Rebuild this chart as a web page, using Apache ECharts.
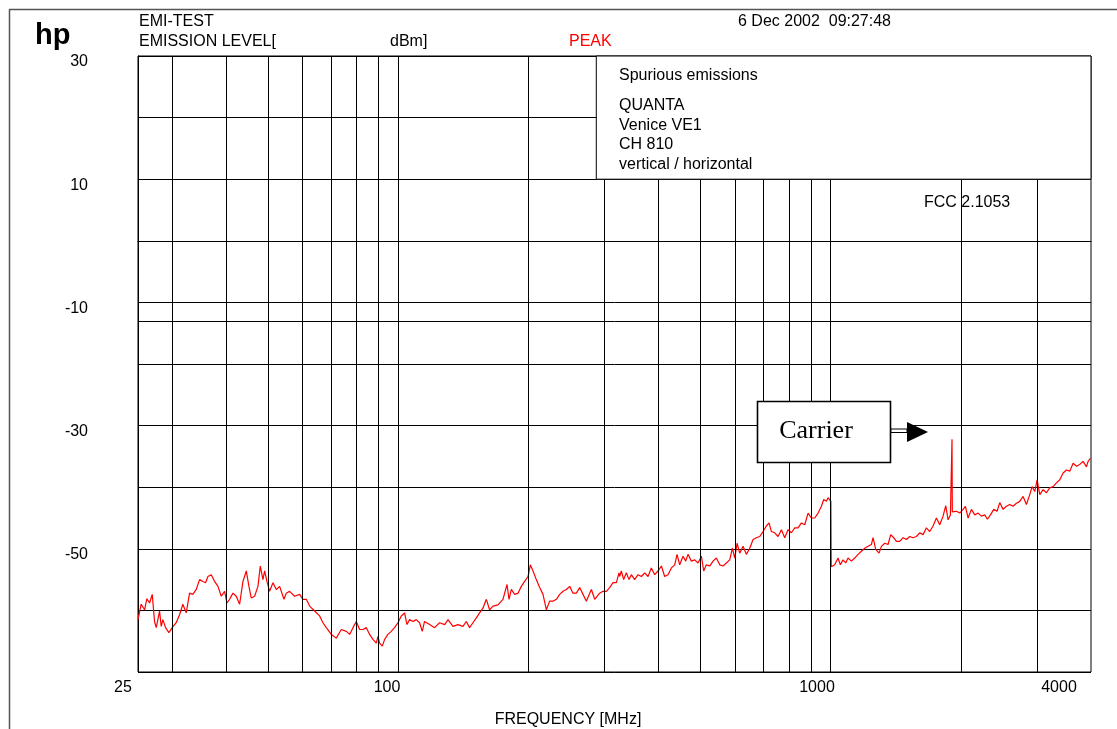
<!DOCTYPE html>
<html><head><meta charset="utf-8">
<script src="https://cdn.jsdelivr.net/npm/echarts@6/dist/echarts.min.js"></script>
<style>html,body{margin:0;padding:0;background:#fff}#c{width:1117px;height:729px}</style>
</head><body><div id="c"></div>
<script>
// ---- data ----
const freqMHz = [
25.0,25.43,25.89,26.21,26.59,26.97,27.30,27.55,28.04,28.29,28.54,28.95,29.47,30.0,30.64,31.19,31.75,32.32,32.90,33.49,
34.09,34.70,35.33,35.83,36.28,36.93,37.59,38.27,38.95,39.65,40.14,40.72,41.45,42.19,42.95,43.72,44.50,45.14,45.70,46.52,
47.35,47.95,48.63,49.07,49.68,50.39,51.29,52.21,53.15,54.39,55.07,56.05,57.57,59.12,60.18,61.26,62.36,64.04,65.77,66.94,
68.14,69.98,71.87,73.81,75.81,77.16,78.55,79.95,81.38,82.84,84.33,85.84,87.37,88.94,89.73,
90.5,91.8,93.0,94.6,96.3,98.0,99.8,101.6,103.4,104.7,106.2,108.1,110.0,112.0,113.6,115.0,118.1,121.3,124.6,128.0,
130.3,133.8,137.4,141.1,143.6,146.2,148.8,151.5,154.2,157.0,159.8,162.6,165.6,170.0,174.6,178.4,180.3,182.6,185.8,189.2,
192.5,196.0,199.5,202.0,204.9,208.5,212.3,216.1,220.0,223.9,227.9,232.0,236.2,240.4,244.7,249.1,253.5,258.1,262.7,267.4,
272.2,277.1,279.6,284.6,292.2,297.5,302.8,308.2,313.7,319.4,323.9,
325.0,327.9,332.0,336.8,341.6,345.9,352.1,358.4,364.9,371.4,378.1,384.8,391.7,398.7,405.9,413.1,420.5,428.1,435.7,441.2,
447.5,455.5,462.1,467.8,476.2,484.8,493.4,502.3,508.5,515.8,525.1,534.5,544.0,553.8,563.7,573.7,584.1,592.5,599.9,607.4,
616.1,627.1,638.3,649.8,661.4,673.2,685.3,697.6,710.0,720.2,729.2,742.3,755.6,769.1,782.9,796.9,811.2,825.7,840.5,855.6,
870.9,886.5,902.4,918.6,935.0,951.8,963.7,977.5,985.9,995.0,1001,
1003,1021.6,1039.8,1052.8,1067.9,1083.2,1096.8,1116.4,1136.5,1156.9,1177.6,1198.8,1220.3,1242.1,1253.0,1270.9,1293.8,1310.0,1333.4,1357.3,
1376.7,1398.9,1418.9,1444.3,1470.3,1496.7,1523.5,1550.8,1578.5,1606.8,1635.5,1664.9,1694.6,1725.0,1755.9,1787.4,1819.4,1845.5,1868.6,1891.9,
1905,1908,1911,1953.5,1988.4,2024.1,2049.4,2078.7,2115.9,2153.9,2192.4,2231.7,2271.5,2304.0,2341.2,2383.1,2425.8,2460.5,2504.6,2549.5,
2595.1,2641.6,2689.0,2737.2,2786.2,2836.1,2886.9,2923.0,2964.8,3001.9,3044.9,3099.4,3154.9,3211.4,3269.0,3327.5,3387.1,3447.8,3509.5,3572.4,
3636.4,3701.5,3767.8,3835.3,3904.0,3938.8,3987
];
const levelDbm = [
-61.5,-59.0,-59.9,-58.1,-58.8,-57.4,-61.8,-62.8,-60.1,-62.6,-61.5,-62.8,-63.6,-62.8,-62.0,-60.7,-59.0,-60.4,-57.2,-57.4,
-56.6,-55.0,-55.3,-55.5,-54.5,-54.2,-55.3,-56.1,-57.7,-56.9,-58.8,-58.2,-57.2,-57.7,-59.0,-55.3,-53.6,-56.1,-58.0,-57.7,
-56.1,-52.8,-55.0,-53.6,-55.3,-56.9,-55.5,-56.6,-56.1,-58.2,-57.2,-56.9,-57.7,-57.4,-58.2,-58.2,-59.3,-60.1,-60.9,-62.0,
-62.8,-63.9,-64.5,-63.1,-63.4,-63.9,-62.8,-61.8,-63.1,-63.1,-62.8,-63.9,-64.7,-65.3,-64.2,
-65.3,-65.8,-64.7,-63.9,-63.4,-62.8,-62.0,-60.9,-60.4,-62.3,-61.5,-61.8,-61.5,-62.0,-63.4,-61.8,-62.3,-62.8,-62.0,-62.3,
-61.5,-62.6,-62.3,-62.6,-61.8,-62.8,-62.0,-61.2,-60.4,-59.6,-58.2,-59.9,-59.3,-59.1,-58.2,-55.8,-58.2,-56.6,-57.4,-57.2,
-56.1,-55.3,-54.5,-52.6,-53.6,-55.0,-56.3,-57.4,-59.9,-58.5,-58.5,-58.2,-57.4,-56.9,-56.6,-56.1,-57.2,-57.2,-56.3,-57.4,
-58.5,-57.2,-56.6,-58.2,-57.2,-56.9,-56.9,-56.3,-55.5,-55.5,-53.9,
-54.5,-53.6,-55.0,-53.9,-55.0,-54.2,-55.0,-54.2,-54.5,-53.9,-54.5,-53.1,-54.2,-53.6,-52.8,-54.5,-54.2,-53.1,-52.6,-50.9,
-52.6,-51.2,-52.0,-50.9,-52.0,-51.8,-52.3,-51.2,-53.6,-52.6,-52.8,-52.0,-51.5,-52.6,-52.8,-52.3,-51.8,-49.9,-51.5,-49.1,
-50.7,-49.6,-50.9,-49.9,-48.5,-48.2,-48.0,-47.2,-46.3,-45.8,-47.2,-47.4,-48.0,-46.9,-48.2,-46.9,-47.4,-46.6,-46.6,-45.8,
-46.1,-44.2,-45.0,-45.0,-44.2,-43.1,-42.0,-42.3,-41.7,-41.8,-42.3,
-52.9,-52.6,-51.5,-52.6,-51.8,-52.3,-51.5,-52.0,-51.5,-50.9,-50.4,-49.9,-49.6,-49.3,-48.2,-50.1,-50.7,-49.6,-49.1,-49.3,
-47.7,-48.2,-48.8,-48.8,-48.2,-48.5,-48.0,-48.2,-48.0,-47.4,-47.7,-46.6,-47.2,-46.3,-45.0,-46.1,-44.7,-43.0,-45.3,-44.5,
-44.2,-32.2,-44.0,-43.9,-44.2,-43.6,-43.1,-45.0,-43.6,-44.5,-44.2,-44.7,-44.5,-45.2,-44.5,-43.6,-43.9,-42.5,-43.6,-43.1,
-42.8,-43.1,-42.6,-42.3,-41.5,-42.8,-41.2,-39.9,-40.7,-38.8,-41.2,-40.4,-40.9,-40.1,-39.9,-39.3,-38.8,-37.7,-37.2,-37.4,
-36.1,-36.6,-36.3,-35.8,-36.7,-35.8,-35.3
];
const gridFreqFull = [30,40,50,60,70,80,90,100,200];
const gridFreqLower = [300,400,500,600,700,800,900,1000,2000,3000];
const limitDbm = -13;
const yTickLabels = [30,10,-10,-30,-50];
const xTickLabels = ['25','100','1000','4000'];
const infoLines = ['Spurious emissions','QUANTA','Venice VE1','CH 810','vertical / horizontal'];
const limitLabel = 'FCC 2.1053';
const infoBoxFreq = 287;

// ---- chart ----
const FONT = '"Liberation Sans", Arial, Helvetica, sans-serif';
const SERIF = '"Liberation Serif", "Times New Roman", serif';
const chart = echarts.init(document.getElementById('c'), null, {renderer:'canvas'});
const traceData = freqMHz.map((f,i)=>[f, levelDbm[i]]);

const markLines = [];
gridFreqFull.forEach(f=>markLines.push([{coord:[f,-70]},{coord:[f,30]}]));
gridFreqLower.forEach(f=>markLines.push([{coord:[f,-70]},{coord:[f,10]}]));
markLines.push({yAxis:limitDbm});

function txt(s,x,y,opts){
  return {type:'text', z:20, silent:true, style:Object.assign({text:s, x:x, y:y, fill:'#000', font:'16px '+FONT, textVerticalAlign:'middle', textAlign:'left'}, opts||{})};
}
const xLabelPos = [123, 387, 817, 1059];
const infoY = [76, 106, 126, 145, 165];
const graphics = [
  {type:'line', z:20, shape:{x1:9,y1:9.5,x2:1117,y2:9.5}, style:{stroke:'#555', lineWidth:1.5}},
  {type:'line', z:20, shape:{x1:9.5,y1:9,x2:9.5,y2:729}, style:{stroke:'#555', lineWidth:1.5}},
  txt('hp', 35, 36, {font:'bold 29px '+FONT}),
  txt('EMI-TEST', 139, 22),
  txt('EMISSION LEVEL[', 139, 42),
  txt('dBm]', 390, 42),
  txt('PEAK', 569, 42, {fill:'#ff0000'}),
  txt('6 Dec 2002  09:27:48', 738, 22),
  txt('FREQUENCY [MHz]', 568, 720, {textAlign:'center'}),
  txt(limitLabel, 924, 203),
  // carrier annotation
  {type:'rect', z:15, shape:{x:891, y:420, width:16, height:23}, style:{fill:'#fff'}},
  {type:'rect', z:16, shape:{x:757.5, y:401.5, width:133, height:61}, style:{fill:'#fff', stroke:'#000', lineWidth:1.6}},
  txt('Carrier', 816, 431, {font:'26px '+SERIF, textAlign:'center'}),
  {type:'rect', z:16, shape:{x:891, y:429, width:16, height:3.5}, style:{fill:'#fff', stroke:'#000', lineWidth:1}},
  {type:'polygon', z:16, shape:{points:[[907,422],[928,432],[907,442]]}, style:{fill:'#000'}}
];
xTickLabels.forEach((s,i)=>graphics.push(txt(s, xLabelPos[i], 688, {textAlign:'center'})));
infoLines.forEach((s,i)=>graphics.push(txt(s, 619, infoY[i])));

chart.setOption({
  animation:false,
  backgroundColor:'#fff',
  grid:{left:138, right:26, top:56, bottom:57, show:true, borderColor:'#000', borderWidth:1, backgroundColor:'transparent'},
  xAxis:{type:'log', logBase:10, min:25, max:4000,
    axisLine:{show:true, lineStyle:{color:'#000', width:1}}, axisTick:{show:false}, axisLabel:{show:false},
    splitLine:{show:false}, minorTick:{show:false}, minorSplitLine:{show:false}},
  yAxis:{type:'value', min:-70, max:30, interval:10,
    axisLine:{show:true, lineStyle:{color:'#000', width:1}}, axisTick:{show:false},
    splitLine:{show:true, lineStyle:{color:'#000', width:1}},
    axisLabel:{formatter:v=>yTickLabels.includes(v)?String(v):'', color:'#000', fontSize:16, fontFamily:FONT, margin:50, verticalAlign:'top', lineHeight:12}},
  series:[
    {type:'line', data:[], z:1, silent:true,
     markLine:{symbol:'none', silent:true, animation:false, label:{show:false}, emphasis:{disabled:true},
       lineStyle:{color:'#000', width:1, type:'solid'}, data:markLines},
     markArea:{silent:true, animation:false, label:{show:false}, emphasis:{disabled:true},
       itemStyle:{color:'#fff', borderColor:'#000', borderWidth:1},
       data:[[{coord:[infoBoxFreq,10]},{coord:[4000,30]}]]}},
    {type:'line', data:traceData, z:3, silent:true, showSymbol:false, symbol:'none',
     lineStyle:{color:'#ff0000', width:1.2}, emphasis:{disabled:true}}
  ],
  graphic:graphics
});
</script></body></html>
